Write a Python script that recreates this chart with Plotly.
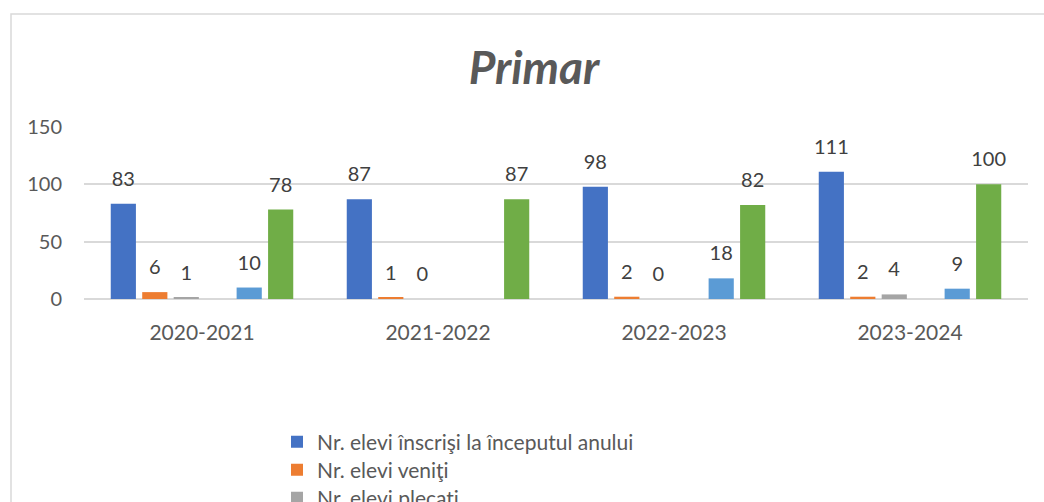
import plotly.graph_objects as go

categories = ["2020-2021", "2021-2022", "2022-2023", "2023-2024"]
series_names = [
    "Nr. elevi înscrişi la începutul anului",
    "Nr. elevi veniţi",
    "Nr. elevi plecaţi",
    "Nr. elevi exmatriculaţi",
    "Nr. elevi repetenţi",
    "Nr. elevi promovaţi",
]
inscrisi = [83, 87, 98, 111]
veniti = [6, 1, 2, 2]
plecati = [1, 0, 0, 4]
exmatriculati = [None, None, None, None]
repetenti = [10, 0, 18, 9]
promovati = [78, 87, 82, 100]
repetenti_labels = ["10", "", "18", "9"]

colors = ["#4472C4", "#ED7D31", "#A5A5A5", "#FFC000", "#5B9BD5", "#70AD47"]
values = [inscrisi, veniti, plecati, exmatriculati, repetenti, promovati]

FONT = "Lato"
W, H = 1044, 680
L, R, T = 84, 16, 127
B = H - 299
pw = W - L - R
ph = H - T - B
YMAX = 150
LABEL_GAP = 11 * YMAX / ph  # extra label clearance above bars (in data units)

fig = go.Figure()
legend_layout = {}
for i, (name, vals) in enumerate(zip(series_names, values)):
    lg = "legend" if i == 0 else f"legend{i + 1}"
    if name == "Nr. elevi repetenţi":
        txt = repetenti_labels
    else:
        txt = ["" if v is None else str(v) for v in vals]
    fig.add_trace(go.Bar(
        name=name, x=categories, y=vals, offsetgroup=str(i), legend=lg,
        marker=dict(color=colors[i], line=dict(width=0)),
        hoverinfo="skip",
    ))
    fig.add_trace(go.Bar(
        x=categories, y=[None if v is None else LABEL_GAP for v in vals],
        base=vals, offsetgroup=str(i), showlegend=False,
        marker=dict(color="rgba(0,0,0,0)", line=dict(width=0)),
        text=txt, textposition="outside", constraintext="none", cliponaxis=False,
        textfont=dict(family=FONT, size=20, color="#404040"),
        hoverinfo="skip",
    ))
    row_y = 442 + 28 * i
    legend_layout[lg] = dict(
        orientation="v", xref="paper", yref="paper",
        x=(277 - L) / pw, xanchor="left", y=(299 - row_y) / ph, yanchor="middle",
        font=dict(family=FONT, size=21, color="#595959"),
        bgcolor="rgba(0,0,0,0)", borderwidth=0)

fig.update_layout(
    width=W, height=H,
    paper_bgcolor="white", plot_bgcolor="white",
    margin=dict(l=L, r=R, t=T, b=B),
    barmode="group", bargap=0.2, bargroupgap=0.2,
    title=dict(text="<b><i>Primar</i></b>", x=534 / W, xanchor="center",
               y=1 - 68 / H, yanchor="middle", yref="container",
               font=dict(family=FONT, size=46, color="#595959")),
    showlegend=True,
    **legend_layout,
)
fig.update_xaxes(showline=False, showgrid=False, ticks="", ticklabelstandoff=19,
                 tickangle=0,
                 tickfont=dict(family=FONT, size=21, color="#595959"))
fig.update_yaxes(range=[0, YMAX], tickvals=[0, 50, 100, 150], showgrid=True,
                 gridcolor="#D9D9D9", gridwidth=1.5, zeroline=True, zerolinecolor="#D9D9D9",
                 zerolinewidth=1.5, showline=False, ticklabelstandoff=21,
                 tickfont=dict(family=FONT, size=20, color="#595959"))

fig.add_shape(type="rect", xref="paper", yref="paper",
              x0=(11 - L) / pw, x1=(1080 - L) / pw,
              y0=(299 - 670) / ph, y1=(299 - 14) / ph,
              line=dict(color="#D9D9D9", width=1.5), fillcolor="rgba(0,0,0,0)", layer="below")

fig.write_html(
    "out.html",
    config={"displayModeBar": False},
    post_script=(
        "document.body.style.margin='0';"
        "document.body.style.overflow='hidden';"
        "document.documentElement.style.overflow='hidden';"
    ),
)
